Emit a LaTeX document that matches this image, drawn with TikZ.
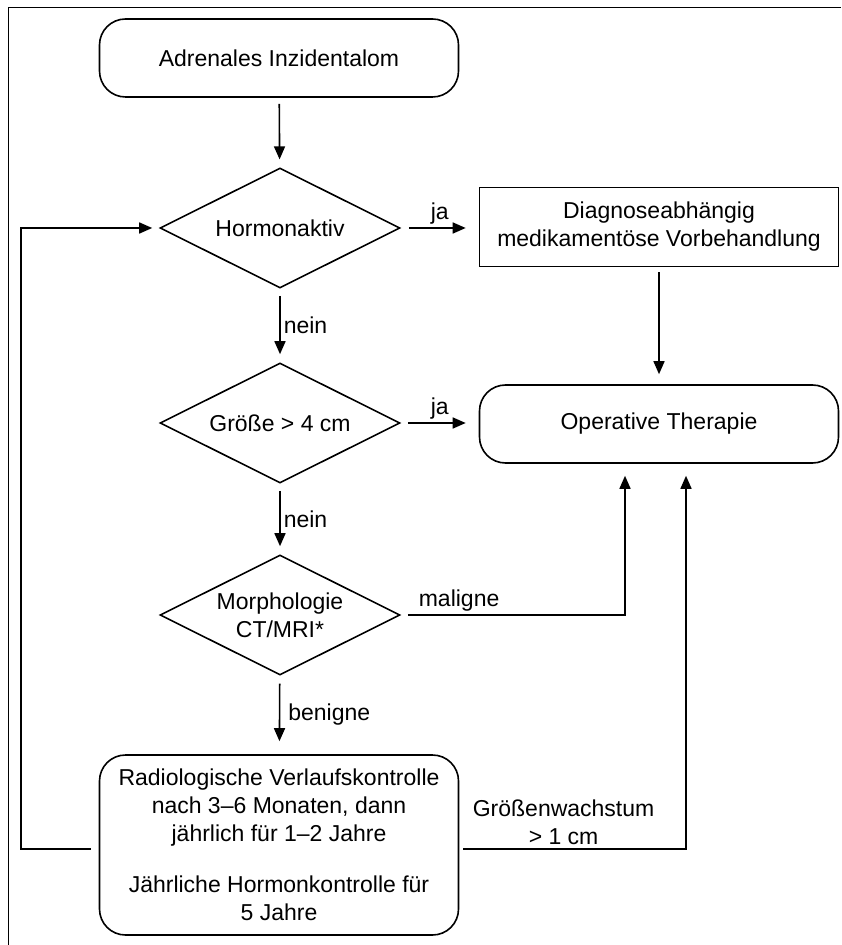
\documentclass[tikz,border=0pt]{standalone}
\usepackage{fontspec}
\setmainfont{Liberation Sans}
\usetikzlibrary{shapes.geometric,arrows.meta,calc}
\begin{document}
\begin{tikzpicture}[x=0.5pt,y=-0.5pt,
  font=\fontsize{11.5}{14}\selectfont,
  line width=0.8pt,
  roundbox/.style={draw, rounded corners=13pt, minimum width=179.5pt, minimum height=39pt, align=center, inner sep=0pt},
  plainbox/.style={draw, minimum width=179.5pt, minimum height=39.5pt, align=center, inner sep=0pt},
  decision/.style={draw, diamond, aspect=2, minimum width=120pt, minimum height=60pt, inner sep=0pt, align=center},
  arr/.style={-{Triangle[length=6.5pt,width=5.5pt]}},
  lbl/.style={inner sep=1.5pt}
]
\fill[white] (0,0) rectangle (841,945);
\useasboundingbox (0,0) rectangle (841,945);
\draw[line width=0.5pt] (8,945) -- (8,8) -- (841,8);

\node[roundbox] (start) at (279,58) {Adrenales Inzidentalom};
\node[decision] (hormon) at (280,228) {Hormonaktiv};
\node[plainbox] (diag) at (659,227) {Diagnoseabhängig\\medikamentöse Vorbehandlung};
\node[decision] (groesse) at (280,423) {Größe > 4 cm};
\node[roundbox] (op) at (659,424) {Operative Therapie};
\node[decision] (morph) at (280,615) {Morphologie\\CT/MRI*};
\node[roundbox, minimum height=90pt] (kontrolle) at (279,845) {Radiologische Verlaufskontrolle\\nach 3–6 Monaten, dann\\jährlich für 1–2 Jahre\\[11.5pt]Jährliche Hormonkontrolle für\\5 Jahre};

\draw[arr, shorten <=3pt, shorten >=4pt] (start) -- (hormon);
\draw[arr, shorten <=4pt, shorten >=6.5pt] (hormon.east) -- node[above,lbl]{ja} (diag.west |- hormon.east);
\draw[arr, shorten <=3.5pt, shorten >=4pt] (hormon) -- node[right,lbl]{nein} (groesse);
\draw[arr, shorten <=2.5pt, shorten >=5pt] (diag) -- (op);
\draw[arr, shorten <=3.5pt, shorten >=6.5pt] (groesse.east) -- node[above,lbl]{ja} (op.west |- groesse.east);
\draw[arr, shorten <=3.5pt, shorten >=4pt] (groesse) -- node[right,lbl]{nein} (morph);
\draw[arr, shorten <=3.5pt, shorten >=6pt] (morph.east) -| node[above, lbl, pos=0.13]{maligne} ([xshift=-17pt]op.south);
\draw[arr, shorten <=4pt, shorten >=6.5pt] (morph) -- node[right,inner sep=4pt]{benigne} (kontrolle);
\draw[arr, shorten <=4pt, shorten >=3.5pt] ([yshift=-2pt]kontrolle.west) -- ++(-78,0) |- (hormon.west);
\draw[arr, shorten <=2pt, shorten >=6pt] ([yshift=-2pt]kontrolle.east) -| node[above, lbl, pos=0.23, align=center]{Größenwachstum\\> 1 cm} ([xshift=13.5pt]op.south);
\end{tikzpicture}
\end{document}
